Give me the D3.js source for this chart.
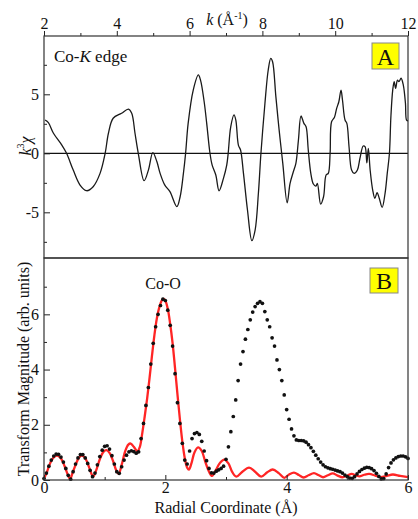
<!DOCTYPE html>
<html><head><meta charset="utf-8">
<script src="https://cdn.jsdelivr.net/npm/d3@7"></script>
<style>
body{margin:0;background:#fff;}
text{font-family:"Liberation Serif","DejaVu Serif",serif;fill:#111;}
</style></head>
<body><svg id="c" width="418" height="519"></svg>
<script>
// ---- Panel A data: k (1/Å) and k^3·chi ----
const kValues = [2.03,2.12,2.26,2.49,2.62,2.8,2.99,3.17,3.35,3.54,3.68,3.77,3.9,4.13,4.32,4.41,4.5,4.59,4.75,4.87,4.99,5.1,5.19,5.32,5.46,5.65,5.74,5.83,5.89,5.96,6.1,6.24,6.3,6.4,6.47,6.56,6.62,6.72,6.81,6.93,7.02,7.06,7.13,7.22,7.27,7.34,7.4,7.48,7.59,7.71,7.8,7.89,7.96,8.07,8.16,8.23,8.28,8.37,8.46,8.56,8.68,8.76,8.85,8.92,8.99,9.06,9.14,9.2,9.26,9.33,9.4,9.47,9.51,9.6,9.68,9.75,9.81,9.86,9.9,9.98,10.04,10.1,10.16,10.2,10.27,10.32,10.38,10.45,10.52,10.61,10.68,10.77,10.82,10.87,10.91,10.96,11.03,11.09,11.15,11.21,11.29,11.37,11.43,11.49,11.53,11.58,11.62,11.66,11.71,11.75,11.81,11.87,11.93,11.96,12.0];
const chiValues = [2.82,2.6,1.7,0.7,0,-1.4,-2.69,-3.17,-2.83,-1.7,0,1.7,2.97,3.39,3.75,3.39,1.7,0,-2.32,-1.4,0.05,-0.7,-1.7,-2.7,-3.25,-4.52,-3.68,-1.7,0,2.54,5.36,6.64,6.2,4.37,2.54,0,-1,-1.84,-3.17,-2.12,-1,0,2.25,3.25,2.82,0.7,0.28,-1.7,-4.8,-7.4,-6.5,-3.39,0,4.24,7.06,8.05,7.76,4.8,1.97,-0.85,-4.19,-2.54,-1.56,-0.85,1.13,3.16,2.54,2.25,0.28,-1.7,-2.6,-2.77,-2.54,-4.3,-3.68,-1.84,-1.7,0,2.68,3.05,3.81,4.37,5.36,4.52,2.82,2.54,0.56,-1.41,-1.7,-1.41,-0.42,0.62,0.56,-0.8,0.42,-1.41,-3.11,-3.81,-3.34,-3.81,-4.58,-3.39,-1.7,0,3.1,5.36,6.07,5.5,6.2,6.07,6.36,5.79,4.24,2.82,2.76];

// ---- Panel B data: measured |chi(R)| (dots), R grid step 0.04 Å from 0 to 6 ----
const rStep = 0.04;
const magValues = [0.05,0.25,0.50,0.72,0.87,0.94,0.93,0.83,0.65,0.42,0.17,0.03,0.30,0.58,0.80,0.92,0.92,0.80,0.60,0.35,0.12,0.25,0.55,0.85,1.08,1.22,1.24,1.12,0.88,0.58,0.30,0.24,0.48,0.72,0.90,1.02,1.06,1.03,0.97,1.02,1.50,2.05,2.70,3.35,4.20,4.95,5.55,6.00,6.32,6.55,6.50,6.15,5.60,4.85,3.85,2.80,2.05,1.33,0.72,0.58,1.05,1.50,1.68,1.72,1.65,1.40,1.05,0.70,0.42,0.26,0.25,0.32,0.37,0.42,0.50,0.75,1.20,1.75,2.30,2.90,3.60,4.20,4.65,5.10,5.45,5.80,6.08,6.28,6.40,6.46,6.40,6.10,5.80,5.55,5.15,4.85,4.35,4.00,3.60,3.08,2.55,2.20,1.85,1.60,1.45,1.43,1.43,1.42,1.37,1.28,1.17,1.04,0.90,0.77,0.65,0.55,0.48,0.44,0.41,0.39,0.36,0.33,0.30,0.25,0.18,0.12,0.07,0.06,0.12,0.22,0.31,0.38,0.43,0.46,0.45,0.41,0.34,0.24,0.13,0.04,0.05,0.22,0.45,0.62,0.73,0.80,0.85,0.87,0.87,0.84,0.78];
// fit (red line)
const fitR = [0,0.05,0.1,0.16,0.22,0.28,0.34,0.40,0.43,0.47,0.53,0.58,0.63,0.69,0.75,0.81,0.86,0.92,0.98,1.03,1.08,1.14,1.19,1.23,1.28,1.34,1.39,1.43,1.48,1.54,1.58,1.62,1.66,1.70,1.74,1.78,1.82,1.86,1.90,1.94,1.97,2.00,2.04,2.08,2.12,2.16,2.20,2.24,2.28,2.32,2.36,2.39,2.43,2.48,2.54,2.6,2.66,2.72,2.77,2.83,2.9,2.97,3.04,3.1,3.17,3.27,3.38,3.48,3.58,3.68,3.77,3.87,3.96,4.04,4.12,4.2,4.28,4.36,4.45,4.53,4.6,4.68,4.76,4.84,4.92,5.0,5.07,5.14,5.2,5.28,5.36,5.46,5.55,5.65,5.75,5.87,6.0];
const fitMag = [0.05,0.3,0.6,0.82,0.88,0.78,0.5,0.15,0.03,0.25,0.6,0.82,0.88,0.75,0.42,0.12,0.35,0.75,1.02,1.08,0.98,0.68,0.35,0.22,0.55,1.05,1.28,1.32,1.2,1.04,1.2,1.7,2.3,2.95,3.7,4.5,5.25,5.85,6.25,6.5,6.56,6.5,6.2,5.65,4.95,4.05,3.1,2.2,1.4,0.8,0.45,0.38,0.6,1.0,1.18,1.05,0.65,0.3,0.15,0.35,0.62,0.74,0.6,0.3,0.12,0.3,0.45,0.3,0.12,0.28,0.38,0.25,0.08,0.2,0.27,0.18,0.09,0.17,0.25,0.17,0.1,0.17,0.24,0.16,0.1,0.16,0.22,0.17,0.13,0.19,0.22,0.16,0.1,0.15,0.2,0.15,0.1];

// ticks
const kTicks = [2,4,6,8,10,12], kMinor = [3,5,7,9,11];
const chiTicks = [-5,0,5], chiMinor = [-7.5,-2.5,2.5,7.5];
const rTicks = [0,2,4,6], rMinor = [1,3,5];
const magTicks = [0,2,4,6], magMinor = [1,3,5,7];

const svg = d3.select("#c");
const L = 44, R = 408, topA = 36, mid = 258, botB = 480;

const xA = d3.scaleLinear().domain([2,12]).range([L,R]);
const yA = d3.scaleLinear().domain([-8.87,9.94]).range([mid,topA]);
const xB = d3.scaleLinear().domain([0,6]).range([L,R]);
const yB = d3.scaleLinear().domain([0,8.04]).range([botB,mid]);

const fs = "16px";
function styleAxis(g){
  g.select(".domain").remove();
  g.selectAll("line").attr("stroke","#222").attr("stroke-width",1);
  g.selectAll("text").style("font-size",fs).attr("fill","#111");
}
function hyph(d){ return d<0 ? "-"+Math.abs(d) : String(d); }

// ---- Panel A ----
svg.append("line").attr("x1",L).attr("x2",R).attr("y1",yA(0)).attr("y2",yA(0))
  .attr("stroke","#111").attr("stroke-width",1.3);

const lineA = d3.line().x((d,i)=>xA(kValues[i])).y(d=>yA(d)).curve(d3.curveCatmullRom.alpha(0.5));
svg.append("path").datum(chiValues).attr("d",lineA).attr("fill","none")
  .attr("stroke","#1a1a1a").attr("stroke-width",1.3);

svg.append("g").attr("transform",`translate(0,${topA})`)
  .call(d3.axisTop(xA).tickValues(kTicks).tickSize(5).tickPadding(2).tickFormat(d3.format("d")))
  .call(styleAxis);
svg.append("g").attr("transform",`translate(0,${topA})`)
  .call(d3.axisTop(xA).tickValues(kMinor).tickSize(3).tickFormat(""))
  .call(styleAxis);
svg.append("g").attr("transform",`translate(${L},0)`)
  .call(d3.axisLeft(yA).tickValues(chiTicks).tickSize(-6).tickPadding(5).tickFormat(hyph))
  .call(styleAxis);
svg.append("g").attr("transform",`translate(${L},0)`)
  .call(d3.axisLeft(yA).tickValues(chiMinor).tickSize(-3).tickFormat(""))
  .call(styleAxis);

// ---- Panel B ----
const lineB = d3.line().x((d,i)=>xB(fitR[i])).y(d=>yB(d)).curve(d3.curveCatmullRom.alpha(0.5));
svg.append("path").datum(fitMag).attr("d",lineB).attr("fill","none")
  .attr("stroke","#ff2525").attr("stroke-width",2.3);

svg.append("g").selectAll("circle").data(magValues).join("circle")
  .attr("cx",(d,i)=>xB(i*rStep)).attr("cy",d=>yB(d)).attr("r",1.85).attr("fill","#111");

svg.append("g").attr("transform",`translate(0,${botB})`)
  .call(d3.axisBottom(xB).tickValues(rTicks).tickSize(-5).tickPadding(2).tickFormat(d3.format("d")))
  .call(styleAxis);
svg.append("g").attr("transform",`translate(0,${botB})`)
  .call(d3.axisBottom(xB).tickValues(rMinor).tickSize(-3).tickFormat(""))
  .call(styleAxis);
svg.append("g").attr("transform",`translate(${L},0)`)
  .call(d3.axisLeft(yB).tickValues(magTicks).tickSize(-6).tickPadding(5).tickFormat(d3.format("d")))
  .call(styleAxis);
svg.append("g").attr("transform",`translate(${L},0)`)
  .call(d3.axisLeft(yB).tickValues(magMinor).tickSize(-3).tickFormat(""))
  .call(styleAxis);

// frames
svg.append("rect").attr("x",L).attr("y",topA).attr("width",R-L).attr("height",mid-topA)
  .attr("fill","none").attr("stroke","#333").attr("stroke-width",1.2);
svg.append("rect").attr("x",L).attr("y",mid).attr("width",R-L).attr("height",botB-mid)
  .attr("fill","none").attr("stroke","#333").attr("stroke-width",1.2);

// labels
const kt = svg.append("text").attr("x",227).attr("y",25).attr("text-anchor","middle").style("font-size","16px");
kt.append("tspan").style("font-style","italic").text("k");
kt.append("tspan").text(" (Å");
kt.append("tspan").attr("dy",-6).style("font-size","10px").text("-1");
kt.append("tspan").attr("dy",6).text(")");

const yl = svg.append("text").attr("transform","translate(31,146) rotate(-90)").attr("text-anchor","middle").style("font-size","16px");
yl.append("tspan").style("font-style","italic").text("k");
yl.append("tspan").attr("dy",-7).style("font-size","10px").text("3");
yl.append("tspan").attr("dy",7).style("font-style","italic").text("χ");

svg.append("text").attr("transform","translate(29,369) rotate(-90)").attr("text-anchor","middle")
  .style("font-size","16px").text("Transform Magnitude (arb. units)");
svg.append("text").attr("x",226).attr("y",513).attr("text-anchor","middle")
  .style("font-size","16px").text("Radial Coordinate (Å)");

const ce = svg.append("text").attr("x",54).attr("y",62).style("font-size","17px");
ce.append("tspan").text("Co-");
ce.append("tspan").style("font-style","italic").text("K");
ce.append("tspan").text(" edge");

svg.append("text").attr("x",163).attr("y",289).attr("text-anchor","middle").style("font-size","16px").text("Co-O");

// badges
function badge(x,y,w,h,t){
  svg.append("rect").attr("x",x).attr("y",y).attr("width",w).attr("height",h)
    .attr("fill","#ffff00").attr("stroke","#888").attr("stroke-width",1);
  svg.append("text").attr("x",x+w/2).attr("y",y+h-4).attr("text-anchor","middle")
    .style("font-size","24px").text(t);
}
badge(372,43,27,26,"A");
badge(370,268,28,25,"B");
</script></body></html>
